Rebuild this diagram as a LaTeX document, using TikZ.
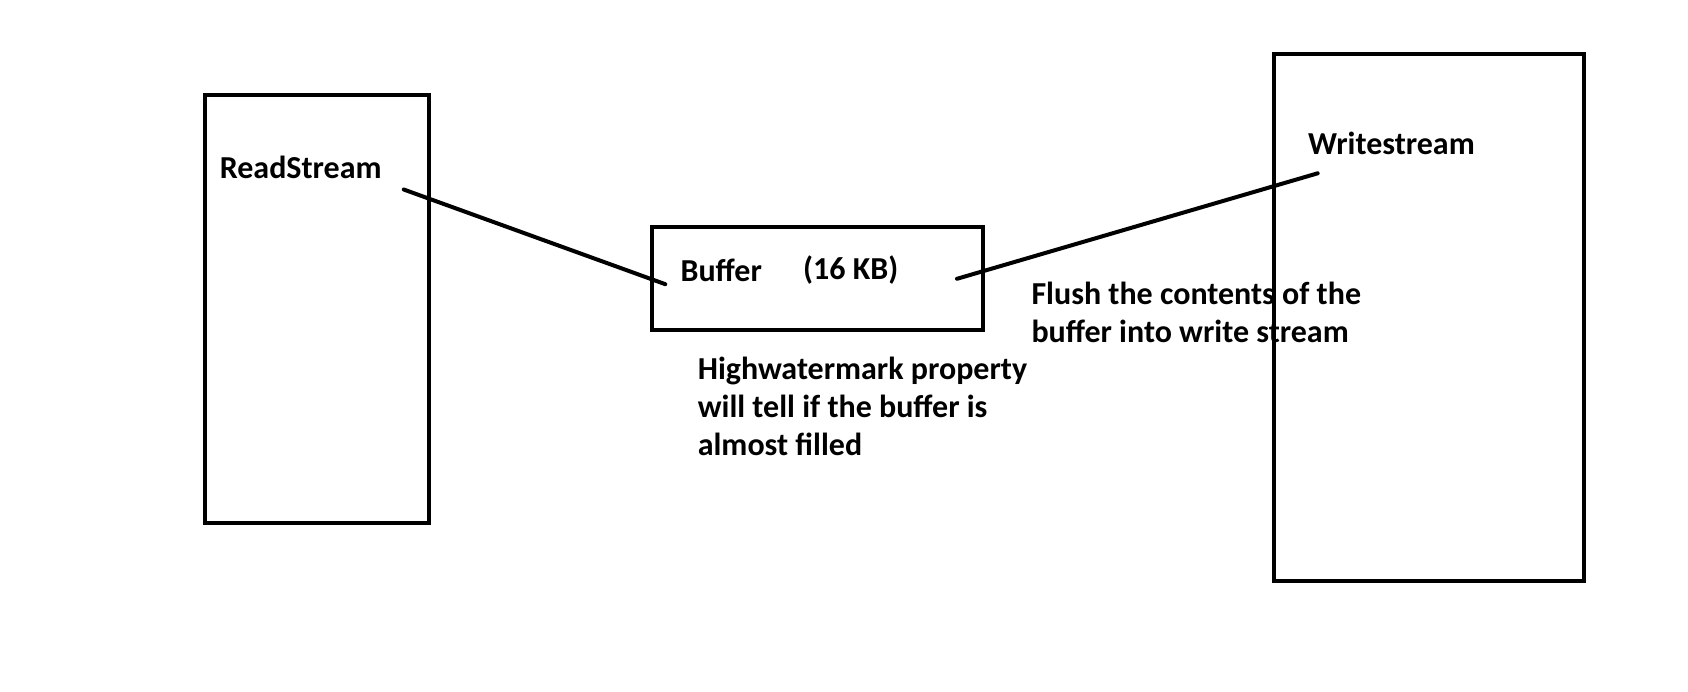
\documentclass[tikz,border=0pt]{standalone}
\usepackage{fontspec}
\setmainfont{Carlito}
\usetikzlibrary{positioning}
\tikzset{
  strm/.style={rectangle, draw=black, line width=4pt, inner sep=0pt},
  lbl/.style={inner sep=0pt, anchor=base west, align=left, text=black,
              font=\fontsize{32}{38}\selectfont\bfseries},
  link/.style={line width=4pt, line cap=round},
}
\begin{document}
\begin{tikzpicture}[x=1pt,y=-1pt]
\useasboundingbox (0,0) rectangle (1688,692);
% stream boxes and buffer
\node[strm, minimum width=224pt, minimum height=428pt] (rs) at (316.5,309) {};
\node[strm, minimum width=331pt, minimum height=103pt] (buf) at (817,279) {};
\node[strm, minimum width=310pt, minimum height=527pt] (ws) at (1428.5,317.5) {};
% labels (base = last line)
\node[lbl] (rsname) at (219.6,178.5) {ReadStream};
\node[lbl] (wsname) at (1308,154.7) {Writestream};
\node[lbl] (bufname) at (680.4,281.7) {Buffer};
\node[lbl] (bufsize) at (803,279.5) {(16 KB)};
\node[lbl] (flush) at (1031.3,342.6) {Flush the contents of the\\buffer into write stream};
\node[lbl] (hwm) at (697.6,455.6) {Highwatermark property\\will tell if the buffer is\\almost filled};
% connectors
\coordinate (rsout) at (403.7,189.5);
\coordinate (bufin) at (665.3,284.2);
\coordinate (bufout) at (957,278.8);
\coordinate (wsin) at (1317.7,173.3);
\draw[link] (rsout) -- (bufin);
\draw[link] (bufout) -- (wsin);
\end{tikzpicture}
\end{document}
